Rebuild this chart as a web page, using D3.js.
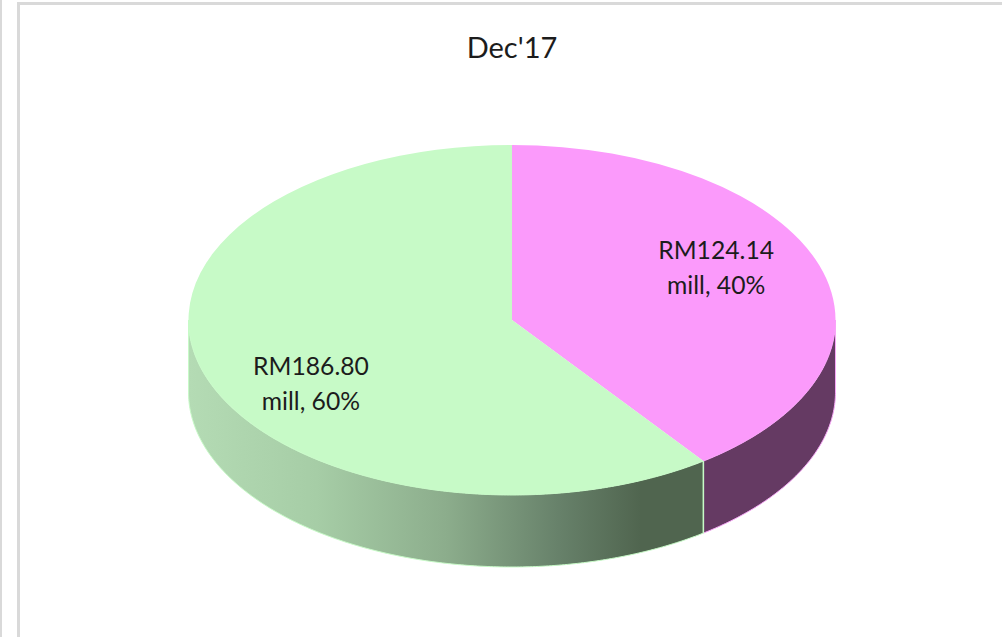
<!DOCTYPE html>
<html>
<head>
<meta charset="utf-8">
<script src="https://cdn.jsdelivr.net/npm/d3@7"></script>
<style>
  html, body { margin: 0; padding: 0; background: #fff; overflow: hidden; }
  text { font-family: Lato, "Open Sans", sans-serif; fill: #1c1c1c; }
</style>
</head>
<body>
<svg id="chart" width="1002" height="637"></svg>
<script>
const chartTitle = "Dec'17";
const values = [124.14, 186.80];
const percents = ["40%", "60%"];
const topColors = ["#fb9afb", "#c7fac7"];
const rimEdge = ["#f7a6f7", "#c7fac7"];

const svg = d3.select("#chart");
const cx = 512, cy = 320, rx = 323.5, ry = 175, depth = 72;

// frame of the screenshot
svg.append("rect").attr("x", 0).attr("y", 0).attr("width", 2).attr("height", 637).attr("fill", "#d9d9d9");
svg.append("rect").attr("x", 17).attr("y", 2).attr("width", 985).attr("height", 3).attr("fill", "#d9d9d9");
svg.append("rect").attr("x", 17).attr("y", 2).attr("width", 3).attr("height", 635).attr("fill", "#d9d9d9");

svg.append("text")
  .attr("x", cx).attr("y", 58)
  .attr("text-anchor", "middle")
  .attr("font-size", 29)
  .text(chartTitle);

const defs = svg.append("defs");
const grad = defs.append("linearGradient")
  .attr("id", "greenRim")
  .attr("gradientUnits", "userSpaceOnUse")
  .attr("x1", cx - rx).attr("x2", 703).attr("y1", 0).attr("y2", 0);
[[0, "#b4dbb4"], [0.25, "#a6cda6"], [0.5, "#8cad8c"], [0.72, "#67816a"], [0.88, "#50654f"], [1, "#50654f"]]
  .forEach(s => grad.append("stop").attr("offset", s[0]).attr("stop-color", s[1]));

const pie = d3.pie().sort(null).value(d => d);
const slices = pie(values);
const rimFill = ["#653a63", "url(#greenRim)"];

// point on the top ellipse for a pie angle (0 = 12 o'clock, clockwise)
const ex = a => cx + rx * Math.sin(a);
const ey = a => cy - ry * Math.cos(a);

// side walls, only the front half of the disc shows
const line = d3.line().x(d => d[0]).y(d => d[1]);
slices.forEach((s, i) => {
  const a0 = Math.max(s.startAngle, Math.PI / 2);
  const a1 = Math.min(s.endAngle, Math.PI * 1.5);
  const angles = d3.range(a0, a1, 0.01).concat([a1]);
  const upper = angles.map(a => [ex(a), ey(a)]);
  const lower = angles.map(a => [ex(a), ey(a) + depth]).reverse();
  svg.append("path")
    .attr("d", line(upper.concat(lower)) + "Z")
    .attr("fill", rimFill[i])
    .attr("stroke", rimEdge[i])
    .attr("stroke-width", 1);
});

// seam between the two walls
const seam = slices[0].endAngle;
svg.append("line")
  .attr("x1", ex(seam)).attr("x2", ex(seam))
  .attr("y1", ey(seam)).attr("y2", ey(seam) + depth)
  .attr("stroke", "#c7fac7").attr("stroke-width", 1.5);

// top face: circular arc squashed into the ellipse
const arc = d3.arc().innerRadius(0).outerRadius(rx);
const face = svg.append("g").attr("transform", `translate(${cx},${cy}) scale(1,${ry / rx})`);
face.selectAll("path")
  .data(slices)
  .enter().append("path")
  .attr("d", arc)
  .attr("fill", (d, i) => topColors[i]);

// data labels, placed by hand like the original
const labelRadius = [0.664, 0.654];
const labelShift = [-18, 26];
slices.forEach((s, i) => {
  const mid = (s.startAngle + s.endAngle) / 2;
  const lx = cx + rx * labelRadius[i] * Math.sin(mid);
  const ly = cy - ry * labelRadius[i] * Math.cos(mid) + labelShift[i];
  const t = svg.append("text").attr("text-anchor", "middle").attr("font-size", 24.7);
  t.append("tspan").attr("x", lx).attr("y", ly - 7).text(`RM${values[i].toFixed(2)}`);
  t.append("tspan").attr("x", lx).attr("y", ly + 28).text(`mill, ${percents[i]}`);
});
</script>
</body>
</html>
